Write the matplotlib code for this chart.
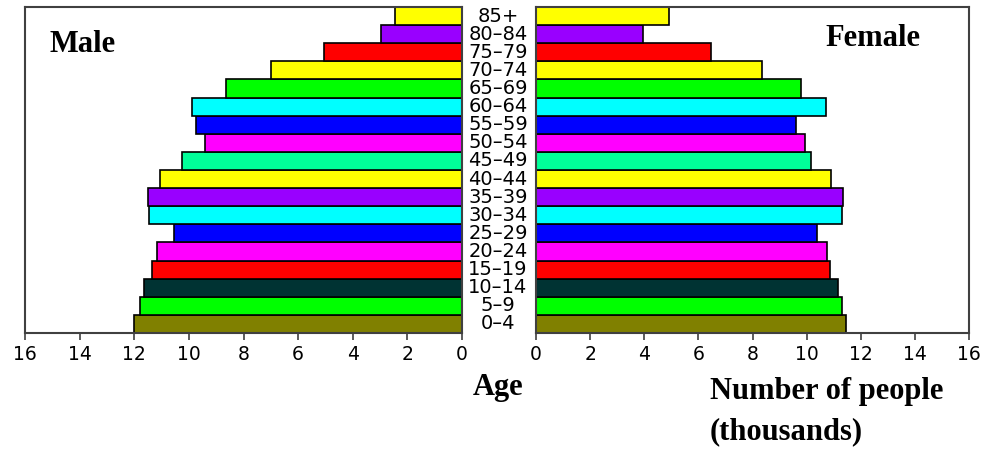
import numpy as np
import matplotlib.pyplot as plt

# age groups, bottom to top
ages = ['0-4', '5-9', '10-14', '15-19', '20-24', '25-29', '30-34', '35-39',
        '40-44', '45-49', '50-54', '55-59', '60-64', '65-69', '70-74',
        '75-79', '80-84', '85+']
male = [12.0, 11.8, 11.65, 11.35, 11.15, 10.55, 11.45, 11.5, 11.05,
        10.25, 9.4, 9.75, 9.9, 8.65, 7.0, 5.05, 2.95, 2.45]
female = [11.45, 11.3, 11.15, 10.85, 10.75, 10.4, 11.3, 11.35, 10.9,
          10.15, 9.95, 9.6, 10.7, 9.8, 8.35, 6.45, 3.95, 4.9]
colors = ['#808000', '#00ff00', '#003333', '#ff0000', '#ff00ff', '#0000ff',
          '#00ffff', '#9900ff', '#ffff00', '#00ff99', '#ff00ff', '#0000ff',
          '#00ffff', '#00ff00', '#ffff00', '#ff0000', '#9900ff', '#ffff00']
ticks = list(range(0, 17, 2))

fig = plt.figure(figsize=(9.86, 4.5), dpi=100)
W, H = 986, 450
axL = fig.add_axes([25 / W, 1 - 333 / H, 437 / W, 326 / H])
axR = fig.add_axes([536 / W, 1 - 333 / H, 433 / W, 326 / H])

y = np.arange(len(ages))
tick_font = ['Liberation Sans Narrow', 'DejaVu Sans']
for ax, vals in ((axL, male), (axR, female)):
    ax.barh(y, vals, height=1.0, color=colors, edgecolor='black', linewidth=1.2)
    ax.set_ylim(-0.5, len(ages) - 0.5)
    ax.set_yticks([])
    ax.set_xticks(ticks)
    ax.set_xticklabels([str(t) for t in ticks], family=tick_font, fontsize=13.5)
    ax.tick_params(axis='x', direction='out', length=5, width=1.2,
                   color='#404040', pad=4)
    for s in ax.spines.values():
        s.set_color('#404040')
        s.set_linewidth(1.5)

axL.set_xlim(16, 0)
axR.set_xlim(0, 16)

for i, a in enumerate(ages):
    axL.text((498 - 25) / 437, i, a.replace('-', '\u2013'),
             transform=axL.get_yaxis_transform(), ha='center', va='center',
             fontsize=14, family=tick_font)

serif = dict(family='Liberation Serif', weight='bold', fontsize=22)
fig.text(83 / W, 1 - 45 / H, 'Male', ha='center', va='center', **serif)
fig.text(873 / W, 1 - 38 / H, 'Female', ha='center', va='center', **serif)
fig.text(498 / W, 1 - 387 / H, 'Age', ha='center', va='center', **serif)
fig.text(710 / W, 1 - 392 / H, 'Number of people', ha='left', va='center', **serif)
fig.text(710 / W, 1 - 432 / H, '(thousands)', ha='left', va='center', **serif)

fig.savefig('out.png', dpi=100)
